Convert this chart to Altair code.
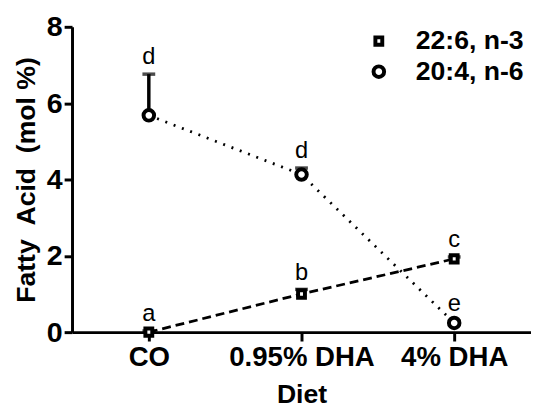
import altair as alt
import pandas as pd

diets = ["CO", "0.95% DHA", "4% DHA"]
series = ["22:6, n-3", "20:4, n-6"]
n3_mean = [0.0, 1.0, 1.92]
n3_err = [0.03, 0.12, 0.05]
n6_mean = [5.68, 4.13, 0.24]
n6_err = [1.08, 0.17, 0.05]
n3_letters = ["a", "b", "c"]
n6_letters = ["d", "d", "e"]

rows = []
for i, d in enumerate(diets):
    rows.append({"diet": d, "series": series[0], "line": "n3", "mean": n3_mean[i],
                 "upper": n3_mean[i] + n3_err[i], "letter": n3_letters[i]})
    rows.append({"diet": d, "series": series[1], "line": "n6", "mean": n6_mean[i],
                 "upper": n6_mean[i] + n6_err[i], "letter": n6_letters[i]})
df = pd.DataFrame(rows)

FONT = "Liberation Sans"
SQUARE = "M-0.65,-0.7H0.65V0.7H-0.65Z"

x = alt.X("diet:N", sort=diets, scale=alt.Scale(type="point", padding=0.503),
          axis=alt.Axis(title="Diet", labelAngle=0, labelFontSize=28, labelFontWeight="bold",
                        labelFont=FONT, titleFont=FONT, titleFontSize=27, titleFontWeight="bold",
                        tickSize=9, tickWidth=3, domainWidth=3, labelPadding=3, titlePadding=10,
                        domainColor="black", tickColor="black", labelColor="black", titleColor="black"))
y = alt.Y("mean:Q", scale=alt.Scale(domain=[0, 8]),
          axis=alt.Axis(title="Fatty\u00a0 Acid\u00a0 (mol %)", values=[0, 2, 4, 6, 8], grid=False,
                        labelFontSize=29, labelFontWeight="bold", labelFont=FONT,
                        titleFont=FONT, titleFontSize=27, titleFontWeight="bold",
                        tickSize=8, tickWidth=3, domainWidth=3, labelPadding=2, titlePadding=6,
                        domainColor="black", tickColor="black", labelColor="black", titleColor="black"))

base = alt.Chart(df)

lines = base.mark_line(color="black", strokeWidth=2.8).encode(
    x=x, y=y,
    strokeDash=alt.StrokeDash("line:N", scale=alt.Scale(domain=["n3", "n6"], range=[[9, 5], [2, 7]]),
                              legend=None),
)

err_rule = base.mark_rule(color="black", strokeWidth=3.5).encode(
    x=x, y=alt.Y("mean:Q"), y2="upper:Q")
err_cap = base.mark_tick(color="black", thickness=3.5, size=13, orient="horizontal").encode(
    x=x, y=alt.Y("upper:Q"))

leg = alt.Legend(title=None, orient="none", legendX=298, legendY=1, padding=0,
                 labelFontSize=27, labelFontWeight="bold", labelFont=FONT,
                 labelColor="black", symbolSize=115, symbolStrokeWidth=4,
                 symbolFillColor="white", symbolOpacity=1, rowPadding=3, labelOffset=24)

points = base.mark_point(filled=False, fill="white", fillOpacity=1, strokeWidth=4,
                         opacity=1, size=115).encode(
    x=x, y=y,
    color=alt.Color("series:N", sort=series,
                    scale=alt.Scale(domain=series, range=["black", "black"]), legend=leg),
    shape=alt.Shape("series:N", sort=series,
                    scale=alt.Scale(domain=series, range=[SQUARE, "circle"]), legend=leg),
)

letters = base.mark_text(fontSize=24, font=FONT, color="black", baseline="alphabetic",
                         dy=-10).encode(x=x, y=alt.Y("upper:Q"), text="letter:N")

chart = alt.layer(lines, err_rule, err_cap, points, letters).properties(
    width=466, height=310,
    autosize=alt.AutoSizeParams(type="none"),
    padding={"left": 65, "top": 16, "right": 0, "bottom": 80},
).configure_view(stroke=None)

chart.save("out.html", embed_options={"renderer": "svg", "actions": False})
